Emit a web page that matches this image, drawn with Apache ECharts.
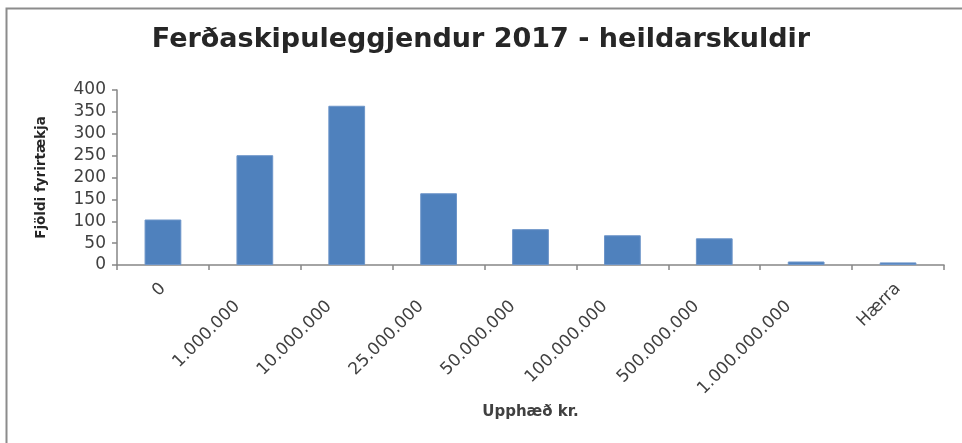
<!DOCTYPE html>
<html>
<head>
<meta charset="utf-8">
<script src="https://cdn.jsdelivr.net/npm/echarts@6/dist/echarts.min.js"></script>
<style>
  html, body { margin: 0; padding: 0; background: #fff; }
  #chart { width: 962px; height: 443px; }
</style>
</head>
<body>
<div id="chart"></div>
<script>
// amount brackets (kr.)
const categories = ['0', '1.000.000', '10.000.000', '25.000.000', '50.000.000',
  '100.000.000', '500.000.000', '1.000.000.000', 'Hærra'];
// number of companies per bracket
const companyCounts = [104, 251, 364, 164, 82, 68, 61, 8, 6];
const yTicks = { min: 0, max: 400, interval: 50 };

const font = '"DejaVu Sans", Verdana, sans-serif';

const myChart = echarts.init(document.getElementById('chart'), null, { renderer: 'canvas' });

const option = {
  animation: false,
  backgroundColor: '#fff',
  title: {
    text: 'Ferðaskipuleggjendur 2017 - heildarskuldir',
    left: 'center',
    top: 21,
    textStyle: {
      fontFamily: font,
      fontWeight: 'bold',
      fontSize: 27,
      color: '#262626',
    },
  },
  graphic: [
    {
      type: 'rect',
      shape: { x: 6.5, y: 8.5, width: 1000, height: 500 },
      style: { fill: 'none', stroke: '#8c8c8c', lineWidth: 2 },
      silent: true,
    },
  ],
  grid: {
    left: 117,
    right: 18,
    top: 90,
    bottom: 178,
  },
  xAxis: {
    type: 'category',
    data: categories,
    name: 'Upphæð kr.',
    nameLocation: 'middle',
    nameGap: 140,
    nameTextStyle: {
      fontFamily: font,
      fontWeight: 'bold',
      fontSize: 15,
      color: '#404040',
    },
    axisLine: { lineStyle: { color: '#868686', width: 1.5 } },
    axisTick: { show: true, alignWithLabel: false, length: 5, lineStyle: { color: '#868686', width: 1.5 } },
    axisLabel: {
      rotate: 45,
      interval: 0,
      margin: 21,
      fontFamily: font,
      fontSize: 17,
      color: '#404040',
      // longer labels sit further down along their slant
      formatter: function(value) {
        return value.length > 5 ? '{lng|' + value + '}' : value;
      },
      rich: {
        lng: {
          fontFamily: font,
          fontSize: 17,
          color: '#404040',
          padding: [0, 25, 0, 0],
        },
      },
    },
  },
  yAxis: {
    type: 'value',
    min: yTicks.min,
    max: yTicks.max,
    interval: yTicks.interval,
    name: 'Fjöldi fyrirtækja',
    nameLocation: 'middle',
    nameGap: 69,
    nameRotate: 90,
    nameTextStyle: {
      fontFamily: font,
      fontWeight: 'bold',
      fontSize: 13.5,
      color: '#262626',
    },
    splitLine: { show: false },
    axisLine: { show: true, lineStyle: { color: '#868686', width: 1.5 } },
    axisTick: { show: true, length: 5, lineStyle: { color: '#868686', width: 1.5 } },
    axisLabel: {
      margin: 11,
      fontFamily: font,
      fontSize: 17,
      color: '#404040',
    },
  },
  series: [
    {
      type: 'bar',
      data: companyCounts,
      barWidth: '40%',
      itemStyle: {
        color: '#4f81bd',
        borderColor: '#6d95c9',
        borderWidth: 1,
      },
    },
  ],
};
myChart.setOption(option);
</script>
</body>
</html>
